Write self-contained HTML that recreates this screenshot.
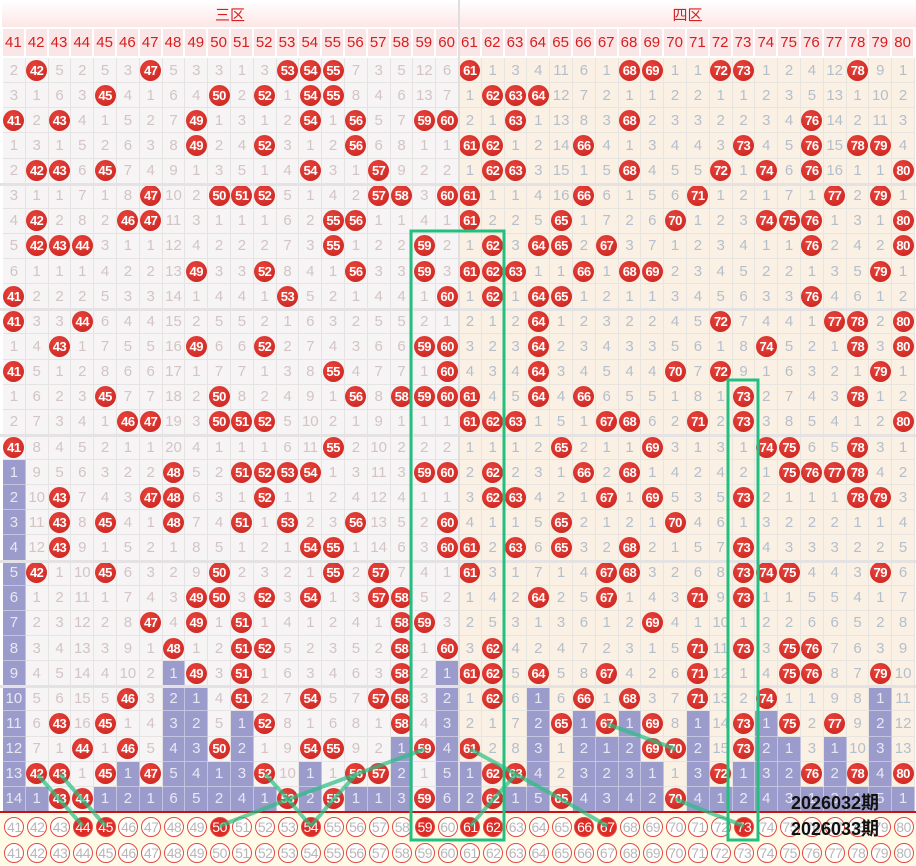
<!DOCTYPE html>
<html><head><meta charset="utf-8"><style>
body{margin:0;width:916px;height:866px;overflow:hidden;background:#fff;font-family:"Liberation Sans","Noto Sans CJK SC",sans-serif;position:relative}
.c{position:absolute;display:flex;align-items:center;justify-content:center;box-sizing:border-box;font-size:15px}
.L{background:#f6f4f4;color:#d4c4c4;border-right:1px solid #e6e3e3;border-bottom:1px solid #e6e3e3}
.R{background:#faf0e4;color:#b4bfcc;border-right:1px solid #e8e4df;border-bottom:1px solid #e8e4df}
.B{background:#9c9ccc!important;color:#e8e8f4!important;border-right:1px solid #c4c4e0;border-bottom:1px solid #c4c4e0}
.ball{width:21px;height:21px;border-radius:50%;background:radial-gradient(circle at 40% 35%,#e8453c,#c8201c);color:#fff;font-weight:bold;font-size:13px;display:flex;align-items:center;justify-content:center;letter-spacing:-0.5px}
.h{background:#fbe6e7;color:#d42020;font-size:15px;border-right:2px solid #fff}
.oc{width:20px;height:20px;border-radius:50%;border:1.5px solid #e24a44;color:#b8b8b8;font-size:14px;display:flex;align-items:center;justify-content:center;box-sizing:border-box;letter-spacing:-0.5px;background:#fff}
.fc{background:#dd2b25;color:#fff}
</style></head><body>
<div class="c" style="left:2px;top:1px;width:456px;height:26px;background:linear-gradient(#fff,#fde6e6);color:#d42020;font-size:15px">三区</div>
<div class="c" style="left:459px;top:1px;width:457px;height:26px;background:linear-gradient(#fff,#fde6e6);color:#d42020;font-size:15px">四区</div>
<div id="g"></div>
<svg width="916" height="866" style="position:absolute;left:0;top:0" id="s"></svg>
<div class="c" style="left:780px;top:790px;width:110px;height:24px;font-size:18px;font-weight:bold;color:#111">2026032期</div>
<div class="c" style="left:780px;top:816px;width:110px;height:24px;font-size:18px;font-weight:bold;color:#111">2026033期</div>
<script>
var D=[
"2 42 5 2 5 3 47 5 3 3 1 3 53 54 55 7 3 5 12 6 61 1 3 4 11 6 1 68 69 1 1 72 73 1 2 4 12 78 9 1",
"3 1 6 3 45 4 1 6 4 50 2 52 1 54 55 8 4 6 13 7 1 62 63 64 12 7 2 1 1 2 2 1 1 2 3 5 13 1 10 2",
"41 2 43 4 1 5 2 7 49 1 3 1 2 54 1 56 5 7 59 60 2 1 63 1 13 8 3 68 2 3 3 2 2 3 4 76 14 2 11 3",
"1 3 1 5 2 6 3 8 49 2 4 52 3 1 2 56 6 8 1 1 61 62 1 2 14 66 4 1 3 4 4 3 73 4 5 76 15 78 79 4",
"2 42 43 6 45 7 4 9 1 3 5 1 4 54 3 1 57 9 2 2 1 62 63 3 15 1 5 68 4 5 5 72 1 74 6 76 16 1 1 80",
"3 1 1 7 1 8 47 10 2 50 51 52 5 1 4 2 57 58 3 60 61 1 1 4 16 66 6 1 5 6 71 1 2 1 7 1 77 2 79 1",
"4 42 2 8 2 46 47 11 3 1 1 1 6 2 55 56 1 1 4 1 61 2 2 5 65 1 7 2 6 70 1 2 3 74 75 76 1 3 1 80",
"5 42 43 44 3 1 1 12 4 2 2 2 7 3 55 1 2 2 59 2 1 62 3 64 65 2 67 3 7 1 2 3 4 1 1 76 2 4 2 80",
"6 1 1 1 4 2 2 13 49 3 3 52 8 4 1 56 3 3 59 3 61 62 63 1 1 66 1 68 69 2 3 4 5 2 2 1 3 5 79 1",
"41 2 2 2 5 3 3 14 1 4 4 1 53 5 2 1 4 4 1 60 1 62 1 64 65 1 2 1 1 3 4 5 6 3 3 76 4 6 1 2",
"41 3 3 44 6 4 4 15 2 5 5 2 1 6 3 2 5 5 2 1 2 1 2 64 1 2 3 2 2 4 5 72 7 4 4 1 77 78 2 80",
"1 4 43 1 7 5 5 16 49 6 6 52 2 7 4 3 6 6 59 60 3 2 3 64 2 3 4 3 3 5 6 1 8 74 5 2 1 78 3 80",
"41 5 1 2 8 6 6 17 1 7 7 1 3 8 55 4 7 7 1 60 4 3 4 64 3 4 5 4 4 70 7 72 9 1 6 3 2 1 79 1",
"1 6 2 3 45 7 7 18 2 50 8 2 4 9 1 56 8 58 59 60 61 4 5 64 4 66 6 5 5 1 8 1 73 2 7 4 3 78 1 2",
"2 7 3 4 1 46 47 19 3 50 51 52 5 10 2 1 9 1 1 1 61 62 63 1 5 1 67 68 6 2 71 2 73 3 8 5 4 1 2 80",
"41 8 4 5 2 1 1 20 4 1 1 1 6 11 55 2 10 2 2 2 1 1 1 2 65 2 1 1 69 3 1 3 1 74 75 6 5 78 3 1",
"1b 9 5 6 3 2 2 48 5 2 51 52 53 54 1 3 11 3 59 60 2 62 2 3 1 66 2 68 1 4 2 4 2 1 75 76 77 78 4 2",
"2b 10 43 7 4 3 47 48 6 3 1 52 1 1 2 4 12 4 1 1 3 62 63 4 2 1 67 1 69 5 3 5 73 2 1 1 1 78 79 3",
"3b 11 43 8 45 4 1 48 7 4 51 1 53 2 3 56 13 5 2 60 4 1 1 5 65 2 1 2 1 70 4 6 1 3 2 2 2 1 1 4",
"4b 12 43 9 1 5 2 1 8 5 1 2 1 54 55 1 14 6 3 60 61 2 63 6 65 3 2 68 2 1 5 7 73 4 3 3 3 2 2 5",
"5b 42 1 10 45 6 3 2 9 50 2 3 2 1 55 2 57 7 4 1 61 3 1 7 1 4 67 68 3 2 6 8 73 74 75 4 4 3 79 6",
"6b 1 2 11 1 7 4 3 49 50 3 52 3 54 1 3 57 58 5 2 1 4 2 64 2 5 67 1 4 3 71 9 73 1 1 5 5 4 1 7",
"7b 2 3 12 2 8 47 4 49 1 51 1 4 1 2 4 1 58 59 3 2 5 3 1 3 6 1 2 69 4 1 10 1 2 2 6 6 5 2 8",
"8b 3 4 13 3 9 1 48 1 2 51 52 5 2 3 5 2 58 1 60 3 62 4 2 4 7 2 3 1 5 71 11 73 3 75 76 7 6 3 9",
"9b 4 5 14 4 10 2 1b 49 3 51 1 6 3 4 6 3 58 2 1b 61 62 5 64 5 8 67 4 2 6 71 12 1 4 75 76 8 7 79 10",
"10b 5 6 15 5 46 3 2b 1b 4 51 2 7 54 5 7 57 58 3 2b 1 62 6 1b 6 66 1 68 3 7 71 13 2 74 1 1 9 8 1b 11",
"11b 6 43 16 45 1 4 3b 2b 5 1b 52 8 1 6 8 1 58 4 3b 2 1 7 2b 65 1b 67 1b 69 8 1b 14 73 1b 75 2 77 9 2b 12",
"12b 7 1 44 1 46 5 4b 3b 50 2b 1 9 54 55 9 2 1b 59 4b 61 2 8 3b 1 2b 1b 2b 69 70 2b 15 73 2b 1b 3 1b 10 3b 13",
"13b 42 43 1 45 1b 47 5b 4b 1b 3b 52 10 1b 1 56 57 2b 1 5b 1b 62 63 4b 2 3b 2b 3b 1b 1 3b 72 1b 3b 2b 76 2b 78 4b 80",
"14b 1b 43 44 1b 2b 1b 6b 5b 2b 4b 1b 53 2b 55 1b 1b 3b 59 6b 2b 62 1b 5b 65 4b 3b 4b 2b 70 4b 1b 2b 4b 3b 1b 3b 1b 5b 1b"];
var W=22.8,X0=3,Y0=58,H=25.13,h='';
function cx(c){return X0+W*c+W/2}function cy(r){return Y0+H*r+H/2}
for(var c=0;c<40;c++){h+='<div class="c h" style="left:'+(X0+W*c)+'px;top:29px;width:'+W+'px;height:27px">'+(41+c)+'</div>';}
for(var r=0;r<30;r++){var v=D[r].split(' ');for(var c=0;c<40;c++){var s=v[c],b=s.indexOf('b')>=0,n=s.replace('b',''),side=c<20?'L':'R';
var inner=(+n==41+c)?'<div class="ball">'+n+'</div>':n;
h+='<div class="c '+side+(b?' B':'')+'" style="left:'+(X0+W*c)+'px;top:'+(Y0+H*r)+'px;width:'+W+'px;height:'+H+'px">'+inner+'</div>';}}
var F=[44,45,50,54,59,61,62,66,67,73];
for(var k=0;k<2;k++){h+='<div style="position:absolute;left:0;top:'+(814+k*26)+'px;width:916px;height:26px;background:#fffbe6"></div>';
for(var c=0;c<40;c++){var n=41+c,f=k==0&&F.indexOf(n)>=0;h+='<div class="c" style="left:'+(X0+W*c)+'px;top:'+(814+k*26)+'px;width:'+W+'px;height:26px"><div class="oc'+(f?' fc':'')+'">'+n+'</div></div>';}}
for(var g=1;g<6;g++)h+='<div style="position:absolute;left:0;top:'+(Y0+H*5*g-1)+'px;width:916px;height:3px;background:#e4e2e2"></div>';
h+='<div style="position:absolute;left:458px;top:0;width:2px;height:812px;background:#e0dede"></div>';
h+='<div style="position:absolute;left:0;top:811px;width:916px;height:2px;background:#d01010"></div>';
document.getElementById('g').innerHTML=h;
var A=826,sv='';
function P(pts){var d=pts.map(function(p){return cx(p[0])+','+(p[1]<0?A:cy(p[1]))}).join(' ');sv+='<polyline points="'+d+'" fill="none" stroke="rgba(40,190,130,0.7)" stroke-width="4"/>';}
P([[1,28],[3,-1]]);P([[2,28],[4,-1]]);P([[11,28],[12,29],[13,-1]]);P([[18,27],[12,29],[9,-1]]);P([[15,28],[14,29],[13,-1]]);
P([[26,26],[29,27]]);P([[20,27],[22,28],[24,29],[26,-1]]);P([[22,28],[21,29],[20,-1]]);P([[29,29],[32,-1]]);
sv+='<rect x="411" y="231" width="93" height="609" fill="none" stroke="#22c080" stroke-width="3"/>';
sv+='<rect x="728" y="380" width="30" height="460" fill="none" stroke="#22c080" stroke-width="3"/>';
document.getElementById('s').innerHTML=sv;
</script>
</body></html>
